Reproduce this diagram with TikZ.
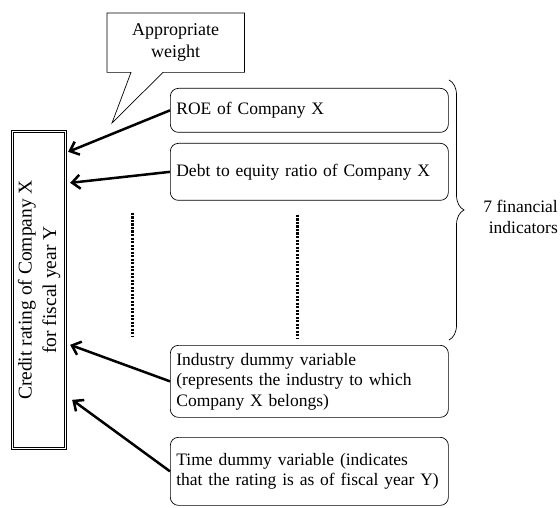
\documentclass[tikz,border=0pt]{standalone}
\usepackage{fontspec}
\setmainfont{Liberation Serif}
\usetikzlibrary{arrows.meta,decorations.pathreplacing}

\tikzset{
	varbox/.style={draw,rounded corners=8pt,line width=0.7pt,anchor=north west,
		minimum width=278pt,inner sep=5pt,align=left,text width=266pt,
		font=\fontsize{17.5}{20.5}\selectfont},
	bigarrow/.style={line width=2.5pt,-{Straight Barb[length=8pt,width=14pt]}},
	dotline/.style={line width=3pt,dash pattern=on 2.2pt off 1.3pt}
}

\begin{document}
\begin{tikzpicture}[x=1pt,y=1pt,yscale=-1,xscale=1]
	\useasboundingbox (0,0) rectangle (560,508);
	
	%Shape: Double box
	\node (rating) [draw,line width=0.8pt,minimum width=55.5pt,minimum height=319.5pt,inner sep=0pt] at (39,290) {};
	\draw [line width=0.8pt] ([xshift=3pt,yshift=3pt]rating.north west) rectangle ([xshift=-3pt,yshift=-3pt]rating.south east);
	% Text Node
	\node (ratingtext) [rotate=90,inner sep=0pt,align=center,font=\fontsize{19.5}{24.5}\selectfont] at (rating.center) {Credit rating of Company X\\for fiscal year Y};
	
	% Text Node
	\node (weight) [anchor=north west,minimum width=137pt,minimum height=59pt,inner sep=0pt,align=center,font=\fontsize{18}{22}\selectfont] at (107,13) {Appropriate\\weight};
	%Shape: Callout
	\coordinate (tip) at (112,123);
	\draw [line width=0.7pt] (weight.north west) -- (weight.north east) -- (weight.south east) -- ([xshift=56pt]weight.south west) -- (tip) -- ([xshift=24pt]weight.south west) -- (weight.south west) -- cycle;
	
	% Text Node
	\node (roe) [varbox,minimum height=44pt] at (170,88) {ROE of Company X};
	% Text Node
	\node (debt) [varbox,minimum height=57pt] at (170,143) {Debt to equity ratio of Company X};
	% Text Node
	\node (industry) [varbox,minimum height=72pt] at (170,345) {Industry dummy variable\\(represents the industry to which\\Company X belongs)};
	% Text Node
	\node (timedum) [varbox,minimum height=68pt] at (170,437) {Time dummy variable (indicates\\that the rating is as of fiscal year Y)};
	
	%Straight Lines
	\draw [bigarrow] (roe.west) -- ([xshift=1pt,yshift=22pt]rating.north east);
	\draw [bigarrow] (debt.west) -- ([xshift=3pt,yshift=53pt]rating.north east);
	\draw [bigarrow] (industry.west) -- ([xshift=3pt,yshift=215pt]rating.north east);
	\draw [bigarrow] (timedum.west) -- ([xshift=5pt,yshift=270pt]rating.north east);
	
	%Dotted Lines
	\coordinate (dotA) at (132,213);
	\coordinate (dotB) at (132,337);
	\coordinate (dotC) at (297,215);
	\coordinate (dotD) at (297,338);
	\draw [dotline] (dotA) -- (dotB);
	\draw [dotline] (dotC) -- (dotD);
	
	%Brace
	\coordinate (brtop) at (449,80);
	\coordinate (brbot) at (449,340);
	\draw [line width=0.7pt,decorate,decoration={brace,amplitude=15pt}] (brtop) -- (brbot);
	
	% Text Node
	\node (nfin) [anchor=east,inner sep=0pt,align=right,font=\fontsize{17.5}{20.5}\selectfont] at (558,217) {7 financial\\indicators};
	
\end{tikzpicture}
\end{document}
